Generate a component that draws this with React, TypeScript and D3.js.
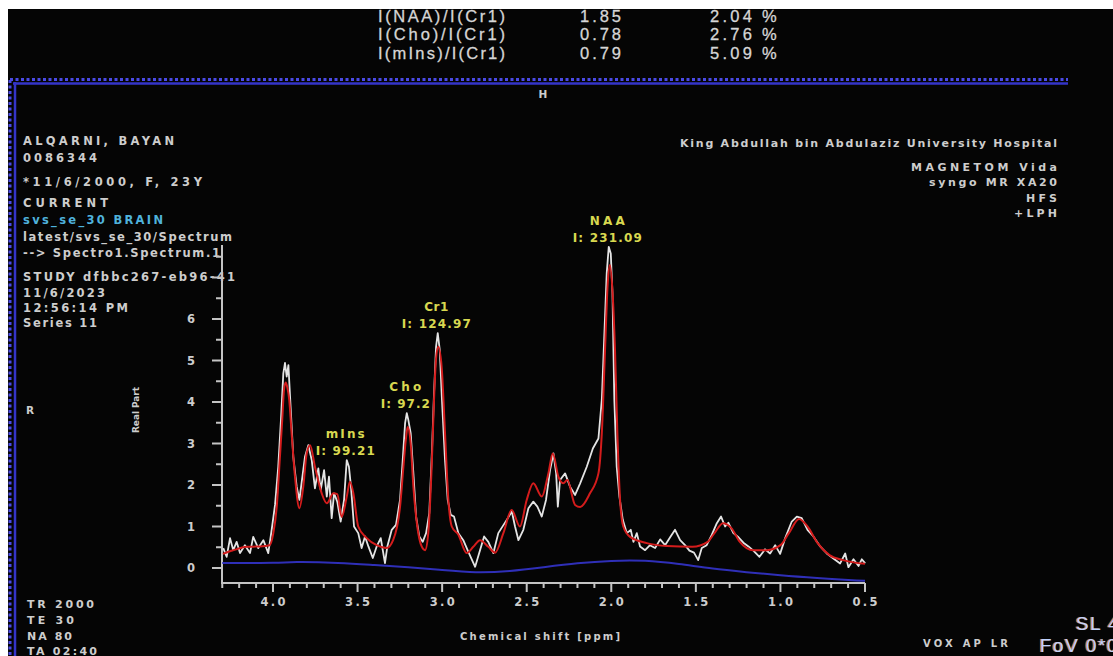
import React from "react";
import * as d3 from "d3";

// measured spectrum (white), [ppm, real part]
const measured: [number, number][] = [
  [4.294,0.48],[4.274,0.27],[4.254,0.72],[4.235,0.43],[4.215,0.63],[4.195,0.36],[4.166,0.55],[4.136,0.36],[4.117,0.75],[4.087,0.48],[4.057,0.67],[4.028,0.36],[4.008,0.92],[3.988,1.52],[3.969,2.44],[3.953,3.57],[3.939,4.69],[3.929,4.94],[3.919,4.61],[3.909,4.89],[3.895,3.81],[3.880,2.68],[3.860,1.96],[3.844,1.64],[3.830,2.08],[3.811,2.68],[3.791,2.96],[3.771,2.60],[3.752,1.92],[3.732,2.40],[3.718,1.88],[3.698,2.36],[3.682,1.72],[3.669,2.20],[3.653,1.20],[3.639,1.80],[3.620,1.60],[3.600,1.12],[3.580,1.64],[3.564,2.60],[3.551,2.44],[3.539,1.96],[3.521,1.00],[3.496,0.84],[3.476,0.48],[3.456,0.76],[3.436,0.52],[3.410,0.24],[3.387,0.52],[3.363,0.72],[3.338,0.12],[3.324,0.52],[3.298,0.92],[3.273,1.04],[3.249,1.64],[3.233,2.60],[3.219,3.49],[3.209,3.73],[3.200,3.57],[3.186,3.25],[3.170,2.28],[3.154,1.24],[3.135,0.76],[3.115,0.63],[3.095,0.84],[3.076,1.32],[3.060,2.84],[3.048,4.21],[3.036,5.33],[3.026,5.66],[3.014,5.25],[3.001,4.05],[2.983,2.60],[2.967,1.64],[2.949,1.28],[2.930,1.24],[2.904,0.84],[2.875,0.67],[2.845,0.39],[2.805,0.03],[2.776,0.43],[2.752,0.76],[2.727,0.63],[2.697,0.36],[2.668,0.84],[2.618,1.16],[2.588,1.36],[2.569,1.00],[2.549,0.67],[2.520,0.92],[2.490,1.44],[2.461,1.60],[2.437,1.48],[2.411,1.24],[2.386,1.64],[2.362,2.36],[2.342,2.76],[2.326,2.28],[2.316,1.48],[2.303,2.12],[2.273,2.28],[2.244,1.96],[2.214,1.76],[2.184,2.04],[2.145,2.44],[2.109,2.88],[2.076,3.12],[2.056,4.05],[2.043,5.42],[2.027,7.10],[2.015,7.74],[2.003,7.58],[1.993,6.62],[1.982,4.05],[1.968,2.44],[1.952,1.72],[1.932,1.16],[1.908,0.84],[1.885,0.92],[1.869,0.63],[1.849,0.84],[1.830,0.52],[1.800,0.43],[1.771,0.55],[1.741,0.48],[1.711,0.69],[1.682,0.55],[1.652,0.74],[1.623,0.92],[1.593,0.67],[1.564,0.55],[1.538,0.42],[1.511,0.37],[1.486,0.19],[1.465,0.48],[1.436,0.55],[1.406,0.80],[1.376,1.08],[1.351,1.24],[1.327,1.00],[1.308,1.09],[1.278,0.84],[1.248,0.74],[1.219,0.61],[1.189,0.52],[1.160,0.42],[1.124,0.27],[1.091,0.45],[1.061,0.35],[1.031,0.55],[1.002,0.34],[0.972,0.72],[0.933,1.12],[0.903,1.24],[0.874,1.20],[0.840,0.92],[0.805,0.76],[0.765,0.52],[0.726,0.35],[0.687,0.23],[0.647,0.11],[0.617,0.35],[0.598,0.02],[0.568,0.21],[0.538,0.05],[0.519,0.21],[0.499,0.11]
];

// fitted spectrum (red)
const fitted: [number, number][] = [
  [4.296,0.34],[4.24,0.42],[4.155,0.51],[4.08,0.52],[4.02,0.55],[3.998,0.84],[3.978,1.47],[3.959,2.68],[3.945,3.6],[3.935,4.3],[3.925,4.47],[3.915,4.35],[3.904,4.05],[3.89,3.25],[3.87,2.2],[3.844,1.44],[3.821,1.96],[3.801,2.76],[3.781,2.96],[3.752,2.44],[3.712,1.8],[3.682,1.56],[3.643,1.8],[3.62,1.78],[3.594,1.23],[3.564,1.72],[3.545,2.08],[3.525,1.8],[3.496,1.0],[3.446,0.72],[3.387,0.55],[3.328,0.48],[3.29,0.67],[3.249,1.47],[3.229,2.44],[3.215,3.08],[3.204,3.4],[3.186,3.0],[3.17,1.96],[3.147,1.0],[3.121,0.52],[3.101,0.43],[3.082,0.84],[3.062,2.44],[3.048,4.05],[3.036,5.05],[3.023,5.33],[3.003,4.85],[2.983,3.25],[2.963,1.63],[2.943,1.0],[2.904,0.8],[2.855,0.36],[2.816,0.51],[2.776,0.67],[2.727,0.51],[2.687,0.37],[2.638,0.84],[2.589,1.40],[2.54,1.0],[2.50,1.64],[2.461,2.04],[2.411,1.72],[2.372,2.28],[2.346,2.76],[2.313,2.2],[2.284,2.04],[2.26,2.12],[2.214,1.52],[2.184,1.47],[2.126,1.8],[2.076,2.28],[2.056,3.25],[2.037,5.25],[2.021,6.86],[2.008,7.3],[1.992,6.6],[1.978,5.25],[1.964,3.25],[1.948,1.64],[1.929,1.0],[1.889,0.75],[1.79,0.6],[1.67,0.53],[1.52,0.51],[1.43,0.63],[1.39,0.84],[1.34,1.08],[1.29,0.96],[1.24,0.63],[1.16,0.43],[1.08,0.43],[1.00,0.55],[0.95,0.84],[0.89,1.18],[0.84,1.0],[0.78,0.6],[0.71,0.31],[0.63,0.19],[0.50,0.1]
];

// baseline (blue)
const baseline: [number, number][] = [
  [4.30,0.12],[3.95,0.12],[3.90,0.15],[3.60,0.13],[3.40,0.07],[3.20,0.02],[3.00,-0.05],[2.80,-0.12],[2.60,-0.08],[2.40,0.02],[2.20,0.12],[2.00,0.18],[1.80,0.19],[1.60,0.10],[1.40,-0.02],[1.20,-0.10],[1.00,-0.18],[0.80,-0.24],[0.50,-0.31]
];

const xTickValues = [4.0, 3.5, 3.0, 2.5, 2.0, 1.5, 1.0, 0.5];
const xTickLabels = ["4.0", "3.5", "3.0", "2.5", "2.0", "1.5", "1.0", "0.5"];
const yTickValues = [0, 1, 2, 3, 4, 5, 6];
const yTickLabels = ["0", "1", "2", "3", "4", "5", "6"];

const peakNames = ["NAA", "Cr1", "Cho", "mIns"];
const peakIntegrals = ["I: 231.09", "I: 124.97", "I: 97.2", "I: 99.21"];
const peakPpm = [2.015, 3.026, 3.209, 3.564];
const peakHeight = [7.74, 5.66, 3.73, 2.60];

const ratioNames = ["I(NAA)/I(Cr1)", "I(Cho)/I(Cr1)", "I(mIns)/I(Cr1)"];
const ratioValues = ["1.85", "0.78", "0.79"];
const ratioErrors = ["2.04", "2.76", "5.09"];

const leftInfo = [
  { t: "ALQARNI, BAYAN", w: 151 },
  { t: "0086344", w: 74 },
  { t: "*11/6/2000, F, 23Y", w: 179 },
  { t: "CURRENT", w: 85 },
  { t: "svs_se_30 BRAIN", w: 140, cyan: true },
  { t: "latest/svs_se_30/Spectrum", w: 209 },
  { t: "--> Spectro1.Spectrum.1", w: 197 },
  { t: "STUDY dfbbc267-eb96-41", w: 212 },
  { t: "11/6/2023", w: 82 },
  { t: "12:56:14 PM", w: 105 },
  { t: "Series 11", w: 74 },
];
const leftBaselines = [145, 162, 186, 207, 224, 241, 257, 281, 297, 312, 327];

const rightInfo = [
  { t: "King Abdullah bin Abdulaziz University Hospital", w: 377 },
  { t: "MAGNETOM Vida", w: 146 },
  { t: "syngo MR XA20", w: 128 },
  { t: "HFS", w: 31 },
  { t: "+LPH", w: 43 },
];
const rightBaselines = [147, 171, 186, 202, 217];

const acqInfo = [
  { t: "TR 2000", w: 67 },
  { t: "TE 30", w: 47 },
  { t: "NA 80", w: 45 },
  { t: "TA 02:40", w: 70 },
];
const acqBaselines = [608, 624, 640, 655];

const peakNameWidths = [35, 24, 32, 39];
const peakIntWidths = [69, 69, 49, 59];

const W = 1113;
const H = 656;
const GRAY = "#cdcdcd";
const YELLOW = "#d8d850";
const FONT = "'DejaVu Sans', Verdana, sans-serif";

export default function App() {
  const x = d3.scaleLinear().domain([4.0, 0.5]).range([273, 865]);
  const y = d3.scaleLinear().domain([0, 6]).range([568, 319]);

  const lineLin = d3
    .line<[number, number]>()
    .x((d) => x(d[0]))
    .y((d) => y(d[1]));
  const lineMono = d3
    .line<[number, number]>()
    .x((d) => x(d[0]))
    .y((d) => y(d[1]))
    .curve(d3.curveMonotoneX);
  const lineBasis = d3
    .line<[number, number]>()
    .x((d) => x(d[0]))
    .y((d) => y(d[1]))
    .curve(d3.curveBasis);

  const axisY = 583;
  const axisX = 222;
  const xMinor = d3.range(43, 4, -1).map((v) => v / 10);
  const yMinor = d3.range(1, 16).map((v) => v / 2);

  return (
    <svg
      width={W}
      height={H}
      style={{ position: "absolute", left: 0, top: 0, display: "block" }}
      xmlns="http://www.w3.org/2000/svg"
    >
      <rect x={0} y={0} width={W} height={H} fill="#ffffff" />
      <rect x={8} y={9} width={W - 8} height={H - 9} fill="#050505" />

      {/* ratio table */}
      {ratioNames.map((n, i) => (
        <g key={n} fontFamily="'Liberation Sans', Arial, sans-serif" fontSize={16.5} fill="#d6d6d6" stroke="#d6d6d6" strokeWidth={0.3}>
          <text x={378} y={22 + i * 18.3} textLength={127} lengthAdjust="spacing">{n}</text>
          <text x={580} y={22 + i * 18.3} textLength={41} lengthAdjust="spacing">{ratioValues[i]}</text>
          <text x={710} y={22 + i * 18.3} textLength={42} lengthAdjust="spacing">{ratioErrors[i]}</text>
          <text x={762} y={22 + i * 18.3}>%</text>
        </g>
      ))}

      {/* blue frame */}
      <line x1={10} y1={79.5} x2={1068} y2={79.5} stroke="#4a4ae6" strokeWidth={3} strokeDasharray="3 2.5" />
      <line x1={13} y1={83.5} x2={1068} y2={83.5} stroke="#3434c8" strokeWidth={2.5} />
      <line x1={10} y1={80} x2={10} y2={H} stroke="#4a4ae6" strokeWidth={3} strokeDasharray="3 2.5" />
      <line x1={15} y1={82} x2={15} y2={H} stroke="#3434c8" strokeWidth={2.5} />

      <g fontFamily={FONT} fontWeight="bold" fill={GRAY}>
        <text x={543} y={98} fontSize={10.5} textAnchor="middle">H</text>
        <text x={26} y={414} fontSize={10.5}>R</text>

        {leftInfo.map((d, i) => (
          <text
            key={d.t}
            x={23}
            y={leftBaselines[i]}
            fontSize={11.5}
            fill={d.cyan ? "#4fb2dc" : GRAY}
            textLength={d.w}
            lengthAdjust="spacing"
          >
            {d.t}
          </text>
        ))}

        {rightInfo.map((d, i) => (
          <text key={d.t} x={1057 - d.w} y={rightBaselines[i]} fontSize={11} textLength={d.w} lengthAdjust="spacing">
            {d.t}
          </text>
        ))}

        {acqInfo.map((d, i) => (
          <text key={d.t} x={27} y={acqBaselines[i]} fontSize={11} textLength={d.w} lengthAdjust="spacing">
            {d.t}
          </text>
        ))}

        <text x={923} y={647} fontSize={10} textLength={85} lengthAdjust="spacing">VOX AP LR</text>
      </g>

      {/* overlay text with colour fringe */}
      <g fontFamily="'Liberation Sans', Arial, sans-serif" fontSize={19} letterSpacing={1.5}>
        <text x={1074.5} y={630} fill="#c8844a">SL 4</text>
        <text x={1076} y={630} fill="#bcd2ff">SL 4</text>
        <text x={1038.5} y={652} fill="#c8844a">FoV 0*0</text>
        <text x={1040} y={652} fill="#bcd2ff">FoV 0*0</text>
      </g>

      {/* axes */}
      <g stroke="#c4c4c4" strokeWidth={2} fill="none">
        <line x1={axisX - 1} y1={axisY} x2={x(0.5)} y2={axisY} />
        <line x1={axisX} y1={245} x2={axisX} y2={axisY + 1} />
        {xMinor.map((v) => {
          const major = Math.abs(v * 2 - Math.round(v * 2)) < 1e-6;
          return <line key={"xm" + v} x1={x(v)} y1={axisY} x2={x(v)} y2={axisY + (major ? 9 : 5)} />;
        })}
        {yMinor.map((v) => {
          const major = Number.isInteger(v);
          return <line key={"ym" + v} x1={axisX} y1={y(v)} x2={axisX - (major ? 10 : 6)} y2={y(v)} />;
        })}
        <line x1={axisX} y1={y(0)} x2={axisX - 10} y2={y(0)} />
      </g>

      <g fontFamily={FONT} fontWeight="bold" fontSize={11.5} fill={GRAY}>
        {xTickValues.map((v, i) => (
          <text key={"xl" + v} x={x(v)} y={606} textAnchor="middle" textLength={25} lengthAdjust="spacing">
            {xTickLabels[i]}
          </text>
        ))}
        {yTickValues.map((v, i) => (
          <text key={"yl" + v} x={191} y={y(v) + 4} textAnchor="middle">
            {yTickLabels[i]}
          </text>
        ))}
        <text x={540} y={640} fontSize={10} textAnchor="middle" textLength={160} lengthAdjust="spacing">
          Chemical shift [ppm]
        </text>
        <text
          transform="translate(139,410) rotate(-90)"
          fontSize={9}
          textAnchor="middle"
          textLength={46}
          lengthAdjust="spacing"
        >
          Real Part
        </text>
      </g>

      {/* curves */}
      <path d={lineBasis(baseline) || ""} fill="none" stroke="#2f2fb8" strokeWidth={2} />
      <path d={lineLin(measured) || ""} fill="none" stroke="#e4e4e4" strokeWidth={1.8} strokeLinejoin="round" />
      <path d={lineMono(fitted) || ""} fill="none" stroke="#d41c1c" strokeWidth={2} strokeLinejoin="round" />

      {/* peak labels */}
      <g fontFamily={FONT} fontWeight="bold" fontSize={12} fill={YELLOW} textAnchor="middle">
        {peakNames.map((n, i) => (
          <g key={n}>
            <text x={x(peakPpm[i]) - 1.5} y={y(peakHeight[i]) - 22} textLength={peakNameWidths[i]} lengthAdjust="spacing">{n}</text>
            <text x={x(peakPpm[i]) - 1.5} y={y(peakHeight[i]) - 5} textLength={peakIntWidths[i]} lengthAdjust="spacing">{peakIntegrals[i]}</text>
          </g>
        ))}
      </g>
    </svg>
  );
}
